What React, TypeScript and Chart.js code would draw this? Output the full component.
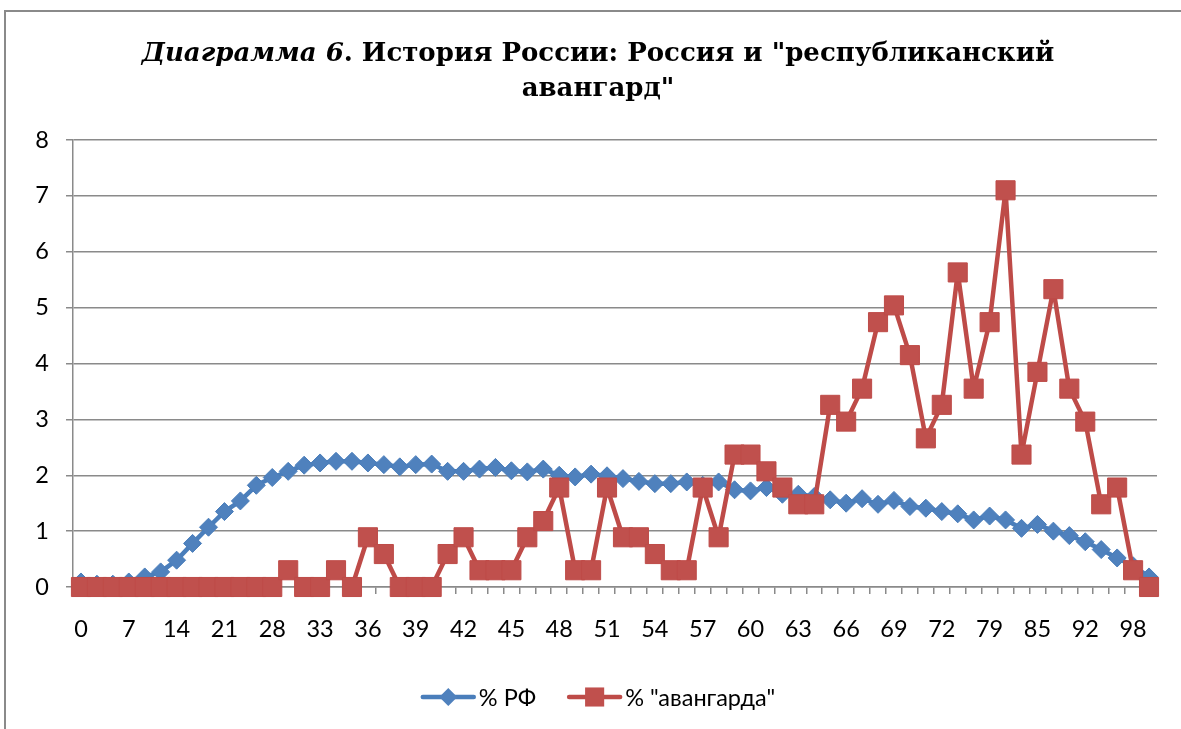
import React, { useEffect, useRef } from 'react';
import { Chart, registerables } from 'chart.js';

Chart.register(...registerables);

// ---------- data ----------
const categories: string[] = [
  '0', '2', '5', '7', '9', '12', '14', '16', '19', '21', '23', '26', '28',
  '30', '31', '33', '34', '35', '36', '37', '38', '39', '40', '41', '42', '43',
  '44', '45', '46', '47', '48', '49', '50', '51', '52', '53', '54', '55', '56',
  '57', '58', '59', '60', '61', '62', '63', '64', '65', '66', '67', '68', '69',
  '70', '71', '72', '74', '77', '79', '81', '83', '85', '87', '90', '92', '94',
  '96', '98', '100',
];

const seriesRF: number[] = [
  0.09, 0.05, 0.05, 0.09, 0.18, 0.27, 0.48, 0.78, 1.07, 1.35,
  1.54, 1.82, 1.96, 2.07, 2.18, 2.22, 2.25, 2.25, 2.22, 2.19,
  2.15, 2.19, 2.2, 2.07, 2.07, 2.11, 2.14, 2.08, 2.06, 2.11,
  2.0, 1.97, 2.02, 1.99, 1.94, 1.89, 1.85, 1.85, 1.88, 1.82,
  1.88, 1.74, 1.72, 1.78, 1.66, 1.66, 1.62, 1.56, 1.5, 1.58,
  1.48, 1.55, 1.44, 1.41, 1.35, 1.31, 1.2, 1.27, 1.2, 1.05,
  1.12, 1.0, 0.92, 0.81, 0.67, 0.52, 0.38, 0.18,
];

const seriesAvangard: number[] = [
  0, 0, 0, 0, 0, 0, 0, 0, 0, 0,
  0, 0, 0, 0.3, 0, 0, 0.3, 0, 0.89, 0.59,
  0, 0, 0, 0.59, 0.89, 0.3, 0.3, 0.3, 0.89, 1.18,
  1.78, 0.3, 0.3, 1.78, 0.89, 0.89, 0.59, 0.3, 0.3, 1.78,
  0.89, 2.37, 2.37, 2.07, 1.78, 1.48, 1.48, 3.26, 2.96, 3.55,
  4.74, 5.04, 4.15, 2.66, 3.26, 5.63, 3.55, 4.74, 7.1, 2.37,
  3.85, 5.33, 3.55, 2.96, 1.48, 1.78, 0.3, 0,
];

const seriesLabels: string[] = ['% РФ', '% "авангарда"'];
const titleItalic = 'Диаграмма 6';
const titleRest = '. История России: Россия и "республиканский';
const titleLine2 = 'авангард"';
const yMin = 0;
const yMax = 8;
const yStep = 1;
const xLabelEvery = 3;

// ---------- styles ----------
const W = 1181;
const H = 729;
const LABEL_FONT = 'Lato';
const LABEL_SIZE = 23.5;
const GRID = '#8a8a8a';

const decorPlugin = {
  id: 'decor',
  beforeDraw(chart: any) {
    const ctx = chart.ctx as CanvasRenderingContext2D;
    ctx.save();
    ctx.fillStyle = '#ffffff';
    ctx.fillRect(0, 0, chart.width, chart.height);
    ctx.strokeStyle = '#8a8a8a';
    ctx.lineWidth = 2;
    ctx.strokeRect(5, 11, chart.width + 40, chart.height + 40);

    // title
    const fam = '"DejaVu Serif", serif';
    const size = 26;
    const fItal = `italic bold ${size}px ${fam}`;
    const fBold = `bold ${size}px ${fam}`;
    ctx.fillStyle = '#000';
    ctx.textBaseline = 'alphabetic';
    ctx.textAlign = 'left';
    ctx.font = fItal;
    const w1 = ctx.measureText(titleItalic).width;
    ctx.font = fBold;
    const w2 = ctx.measureText(titleRest).width;
    const cx = 598;
    const x0 = cx - (w1 + w2) / 2;
    ctx.font = fItal;
    ctx.fillText(titleItalic, x0, 61);
    ctx.font = fBold;
    ctx.fillText(titleRest, x0 + w1, 61);
    ctx.textAlign = 'center';
    ctx.fillText(titleLine2, cx, 96);
    ctx.restore();
  },
  afterDraw(chart: any) {
    const ctx = chart.ctx as CanvasRenderingContext2D;
    const ds = chart.data.datasets;
    ctx.save();
    ctx.font = `${LABEL_SIZE}px ${LABEL_FONT}`;
    const lineLen = 55;
    const textGap = 3;
    const itemGap = 31;
    const widths = ds.map((d: any) => ctx.measureText(d.label).width);
    const total =
      widths.reduce((a: number, w: number) => a + lineLen + textGap + w, 0) +
      itemGap * (ds.length - 1);
    let x = 598 - total / 2;
    const y = 697;
    ds.forEach((d: any, i: number) => {
      ctx.strokeStyle = d.borderColor;
      ctx.lineWidth = d.borderWidth;
      ctx.lineCap = 'round';
      ctx.beginPath();
      ctx.moveTo(x + 2, y);
      ctx.lineTo(x + lineLen - 2, y);
      ctx.stroke();
      const mx = x + lineLen / 2;
      ctx.fillStyle = d.pointBackgroundColor;
      ctx.beginPath();
      if (d.pointStyle === 'rectRot') {
        const r = d.pointRadius;
        ctx.moveTo(mx, y - r);
        ctx.lineTo(mx + r, y);
        ctx.lineTo(mx, y + r);
        ctx.lineTo(mx - r, y);
        ctx.closePath();
      } else {
        const s = Math.SQRT1_2 * d.pointRadius;
        ctx.rect(mx - s, y - s, 2 * s, 2 * s);
      }
      ctx.fill();
      ctx.fillStyle = '#000';
      ctx.textBaseline = 'middle';
      ctx.textAlign = 'left';
      ctx.fillText(d.label, x + lineLen + textGap, y + 1);
      x += lineLen + textGap + widths[i] + itemGap;
    });
    ctx.restore();
  },
};

export default function App() {
  const ref = useRef<HTMLCanvasElement | null>(null);

  useEffect(() => {
    if (!ref.current) return;
    const chart = new Chart(ref.current, {
      type: 'line',
      data: {
        labels: categories,
        datasets: [
          {
            label: seriesLabels[0],
            data: seriesRF,
            borderColor: '#4A7EBB',
            backgroundColor: '#4F81BD',
            borderWidth: 4.5,
            borderJoinStyle: 'round',
            pointStyle: 'rectRot',
            pointRadius: 9,
            pointBackgroundColor: '#4F81BD',
            pointBorderColor: '#4A7EBB',
            pointBorderWidth: 1,
            tension: 0,
            clip: false as any,
            order: 2,
          },
          {
            label: seriesLabels[1],
            data: seriesAvangard,
            borderColor: '#BE4B48',
            backgroundColor: '#C0504D',
            borderWidth: 4.5,
            borderJoinStyle: 'round',
            pointStyle: 'rect',
            pointRadius: 13.5,
            pointBackgroundColor: '#C0504D',
            pointBorderColor: '#BE4B48',
            pointBorderWidth: 1,
            tension: 0,
            clip: false as any,
            order: 1,
          },
        ],
      },
      options: {
        responsive: false,
        animation: false,
        events: [],
        layout: { padding: { top: 140, right: 24, bottom: 0, left: 0 } },
        plugins: {
          legend: { display: false },
          title: { display: false },
          tooltip: { enabled: false },
        },
        scales: {
          x: {
            type: 'category',
            offset: true,
            grid: {
              offset: true,
              drawOnChartArea: false,
              drawTicks: true,
              tickLength: 7,
              color: GRID,
              lineWidth: 1.5,
            },
            border: { display: true, color: GRID, width: 1.5 },
            ticks: {
              autoSkip: false,
              maxRotation: 0,
              minRotation: 0,
              padding: 21,
              color: '#000',
              font: { family: LABEL_FONT, size: LABEL_SIZE },
              callback: (_v: any, i: number) =>
                i % xLabelEvery === 0 ? categories[i] : '',
            },
            afterFit: (scale: any) => {
              scale.height = H - 587;
            },
          },
          y: {
            min: yMin,
            max: yMax,
            grid: {
              color: GRID,
              lineWidth: 1.5,
              drawTicks: true,
              tickLength: 7,
            },
            border: { display: true, color: GRID, width: 1.5 },
            ticks: {
              stepSize: yStep,
              padding: 17,
              color: '#000',
              font: { family: LABEL_FONT, size: LABEL_SIZE },
            },
            afterFit: (scale: any) => {
              scale.width = 73;
            },
          },
        },
      },
      plugins: [decorPlugin],
    });
    return () => chart.destroy();
  }, []);

  return (
    <div style={{ position: 'absolute', left: 0, top: 0, width: W, height: H, background: '#fff' }}>
      <canvas ref={ref} width={W} height={H} style={{ display: 'block' }} />
    </div>
  );
}
